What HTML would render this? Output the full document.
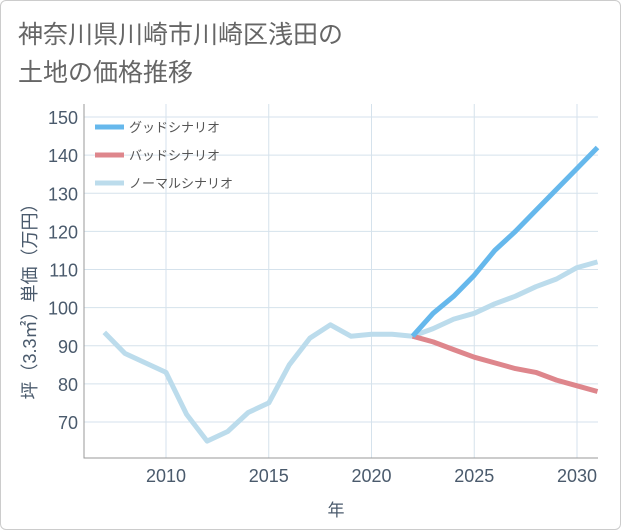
<!DOCTYPE html>
<html><head><meta charset="utf-8"><style>
body{margin:0;background:#fff;}
#wrap{position:relative;width:621px;height:530px;box-sizing:border-box;border:1px solid #ccc;border-radius:6px;overflow:hidden;font-family:"Liberation Sans","Noto Sans CJK JP",sans-serif;}
</style></head><body>
<div id="wrap">
<svg id="chart" width="621" height="530" style="position:absolute;left:0;top:0"></svg>
</div>
<script>
const years=[2007,2008,2009,2010,2011,2012,2013,2014,2015,2016,2017,2018,2019,2020,2021,2022,2023,2024,2025,2026,2027,2028,2029,2030,2031];
const normalValues=[93.5,88,85.5,83,72,65,67.5,72.5,75,85,92,95.5,92.5,93,93,92.5,94.5,97,98.5,101,103,105.5,107.5,110.5,112];
const futureYears=[2022,2023,2024,2025,2026,2027,2028,2029,2030,2031];
const goodValues=[92.5,98.5,103,108.5,115,120,125.5,131,136.5,142];
const badValues=[92.5,91,89,87,85.5,84,83,81,79.5,78];
const yTicks=[70,80,90,100,110,120,130,140,150];
const xTicks=[2010,2015,2020,2025,2030];
const legendLabels=["グッドシナリオ","バッドシナリオ","ノーマルシナリオ"];

const NS="http://www.w3.org/2000/svg";
const svg=document.getElementById('chart');
const L=83,R=597,T=103,B=457;
const x=v=>165+(v-2010)*(576-165)/20;
const y=v=>421-(v-70)*(421-116)/80;
function mk(tag,attrs,parent){const e=document.createElementNS(NS,tag);for(const k in attrs)e.setAttribute(k,attrs[k]);(parent||svg).appendChild(e);return e;}

function txt(s,a){const t=mk('text',a);t.textContent=s;return t;}
let t1=txt("神奈川県川崎市川崎区浅田の",{x:17,y:42,'font-size':25,fill:'#666'});


let t2=txt("土地の価格推移",{x:17,y:80,'font-size':25,fill:'#666'});



for(const v of yTicks){
  const g=mk('line',{x1:L,x2:R,y1:y(v),y2:y(v),stroke:'#d5e2ec','stroke-width':1});
  
  
  const lb=txt(String(v),{x:77,y:y(v)+7,'font-size':18,fill:'#4a5a6c','text-anchor':'end'});
  
  
}
for(const v of xTicks){
  const g=mk('line',{x1:x(v),x2:x(v),y1:T,y2:B,stroke:'#d5e2ec','stroke-width':1});
  
  
  const lb=txt(String(v),{x:x(v),y:481,'font-size':18,fill:'#4a5a6c','text-anchor':'middle'});
  
  
}
const fr=mk('path',{d:`M${L},${T}V${B}H${R}`,fill:'none',stroke:'#999','stroke-width':1});



const xt=txt("年",{x:335,y:515,'font-size':17,fill:'#4a5a6c','text-anchor':'middle'});


const yt=txt("坪（3.3㎡）単価（万円）",{x:0,y:0,'font-size':18,fill:'#4a5a6c','text-anchor':'middle',transform:'translate(35,296) rotate(-90)'});



function line(xs,vs,color,name){
  const d=xs.map((v,i)=>(i?'L':'M')+x(v).toFixed(1)+','+y(vs[i]).toFixed(1)).join('');
  const p=mk('path',{d,fill:'none',stroke:color,'stroke-width':5,'stroke-linejoin':'round'});
  
  
}
line(years,normalValues,'#bcdcec','normal-scenario-line');
line(futureYears,badValues,'#de868c','bad-scenario-line');
line(futureYears,goodValues,'#66b8ec','good-scenario-line');

const lc=['#66b8ec','#de868c','#bcdcec'];
legendLabels.forEach((s,i)=>{
  const yy=126+i*28;
  const sw=mk('line',{x1:94,x2:123,y1:yy,y2:yy,stroke:lc[i],'stroke-width':5});
  
  
  const lt=txt(s,{x:128,y:yy+5,'font-size':13,fill:'#555'});
  
  
});
</script>
</body></html>
